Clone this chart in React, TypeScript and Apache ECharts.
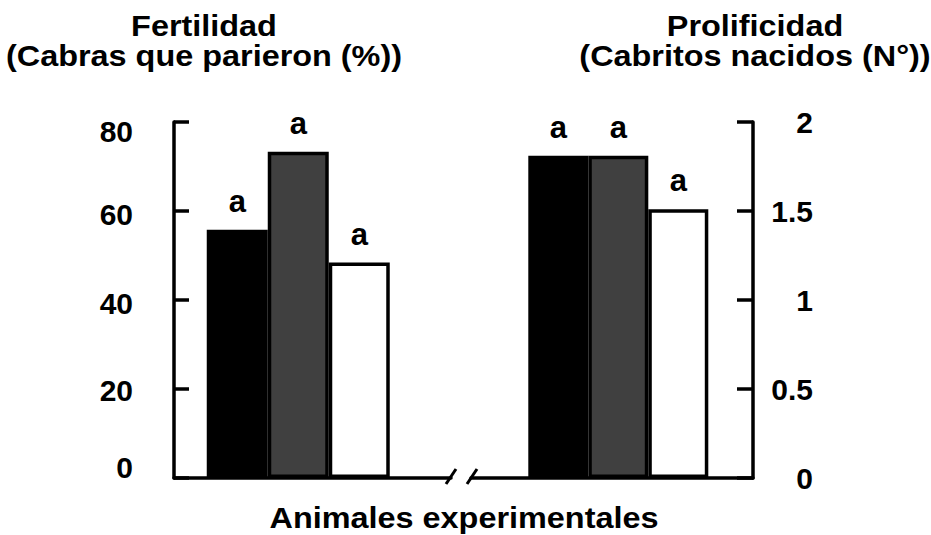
import React, { useEffect, useRef } from 'react';
import * as echarts from 'echarts';

// ---- data ----
const groups = ['Fertilidad', 'Prolificidad'];
const treatments = ['Grupo 1', 'Grupo 2', 'Grupo 3'];
const fertility = [55.8, 73.3, 48.4]; // % cabras que parieron
const prolificacy = [1.81, 1.81, 1.51]; // cabritos nacidos (N°)
const fertilityLetters = ['a', 'a', 'a'];
const prolificacyLetters = ['a', 'a', 'a'];
const fertilityTicks = [0, 20, 40, 60, 80];
const prolificacyTicks = [0, 0.5, 1, 1.5, 2];
const fertilityTitle = ['Fertilidad', '(Cabras que parieron (%))'];
const prolificacyTitle = ['Prolificidad', '(Cabritos nacidos (N°))'];
const xTitle = 'Animales experimentales';

// ---- styles ----
const FONT = '"Liberation Sans", Arial, Helvetica, sans-serif';
const fills = ['#000000', '#404040', '#ffffff'];
const leftLabelShift: Record<number, string> = { 80: 'd9', 60: 'd3', 40: 'd3', 20: 'd1', 0: 'u11' };

export default function App() {
  const ref = useRef<HTMLDivElement>(null);

  useEffect(() => {
    document.body.style.margin = '0';
    if (!ref.current) return;
    const chart = echarts.init(ref.current, undefined, { renderer: 'svg' });

    const labelFont = { fontFamily: FONT, fontWeight: 'bold' as const, fontSize: 30, color: '#000' };
    const barLabel = (text: string) => ({
      show: true,
      position: 'top' as const,
      distance: 13,
      formatter: text,
      fontFamily: FONT,
      fontWeight: 'bold' as const,
      fontSize: 31,
      color: '#000',
    });

    const leftSeries = treatments.map((t, i) => ({
      type: 'bar' as const,
      name: t,
      xAxisIndex: 0,
      yAxisIndex: 0,
      data: [fertility[i]],
      barWidth: 61,
      barGap: '0%',
      itemStyle: { color: fills[i], borderColor: '#000', borderWidth: 3.5 },
      label: barLabel(fertilityLetters[i]),
    }));
    const rightSeries = treatments.map((t, i) => ({
      type: 'bar' as const,
      name: t,
      xAxisIndex: 1,
      yAxisIndex: 1,
      data: [prolificacy[i]],
      barWidth: 60,
      barGap: '0%',
      itemStyle: { color: fills[i], borderColor: '#000', borderWidth: 3.5 },
      label: barLabel(prolificacyLetters[i]),
    }));
    const spacer = (xi: number, w: number) => ({
      type: 'bar' as const,
      xAxisIndex: xi,
      yAxisIndex: xi,
      data: ['-'],
      barWidth: w,
      barGap: '0%',
      silent: true,
      itemStyle: { color: 'transparent' },
    });

    const shiftRich = {
      d9: { ...labelFont, padding: [18, 0, 0, 0] },
      d3: { ...labelFont, padding: [6, 0, 0, 0] },
      d1: { ...labelFont, padding: [2, 0, 0, 0] },
      u11: { ...labelFont, padding: [0, 0, 22, 0] },
    };

    const titleText = (text: string, x: number, y: number, size = 30) => ({
      type: 'text' as const,
      x,
      y,
      scaleX: 1.08,
      style: {
        text,
        fill: '#000',
        font: `bold ${size}px ${FONT}`,
        textAlign: 'center',
        textVerticalAlign: 'middle',
        align: 'center',
        verticalAlign: 'middle',
      },
    });

    chart.setOption({
      animation: false,
      backgroundColor: '#ffffff',
      grid: [
        { left: 174, right: 480, top: 122, bottom: 57 },
        { left: 471, right: 178, top: 122, bottom: 57 },
      ],
      xAxis: [
        {
          gridIndex: 0,
          type: 'category',
          data: [groups[0]],
          axisLine: { lineStyle: { color: '#000', width: 3.5 } },
          axisTick: { show: false },
          axisLabel: { show: false },
        },
        {
          gridIndex: 1,
          type: 'category',
          data: [groups[1]],
          axisLine: { lineStyle: { color: '#000', width: 3.5 } },
          axisTick: { show: false },
          axisLabel: { show: false },
        },
      ],
      yAxis: [
        {
          gridIndex: 0,
          type: 'value',
          position: 'left',
          min: fertilityTicks[0],
          max: fertilityTicks[fertilityTicks.length - 1],
          interval: fertilityTicks[1] - fertilityTicks[0],
          splitLine: { show: false },
          axisLine: { show: true, lineStyle: { color: '#000', width: 3.5 } },
          axisTick: { show: true, inside: true, length: 15, lineStyle: { color: '#000', width: 3.5 } },
          axisLabel: {
            ...labelFont,
            margin: 41,
            formatter: (v: number) => `{${leftLabelShift[v] || 'd1'}|${v}}`,
            rich: shiftRich,
          },
        },
        {
          gridIndex: 1,
          type: 'value',
          position: 'right',
          min: prolificacyTicks[0],
          max: prolificacyTicks[prolificacyTicks.length - 1],
          interval: prolificacyTicks[1] - prolificacyTicks[0],
          splitLine: { show: false },
          axisLine: { show: true, lineStyle: { color: '#000', width: 3.5 } },
          axisTick: { show: true, inside: true, length: 16, lineStyle: { color: '#000', width: 3.5 } },
          axisLabel: { ...labelFont, margin: 60, align: 'right' },
        },
      ],
      series: [...leftSeries, spacer(0, 28.5), spacer(1, 12.6), ...rightSeries],
      graphic: [
        titleText(fertilityTitle[0], 204, 26),
        titleText(fertilityTitle[1], 204, 56),
        titleText(prolificacyTitle[0], 755, 26),
        titleText(prolificacyTitle[1], 755, 56),
        titleText(xTitle, 464, 518),
        {
          type: 'line',
          shape: { x1: 446, y1: 484, x2: 456, y2: 469 },
          style: { stroke: '#000', lineWidth: 3 },
        },
        {
          type: 'line',
          shape: { x1: 467, y1: 484, x2: 477, y2: 469 },
          style: { stroke: '#000', lineWidth: 3 },
        },
      ],
    });

    return () => chart.dispose();
  }, []);

  return <div ref={ref} style={{ width: 931, height: 535 }} />;
}
